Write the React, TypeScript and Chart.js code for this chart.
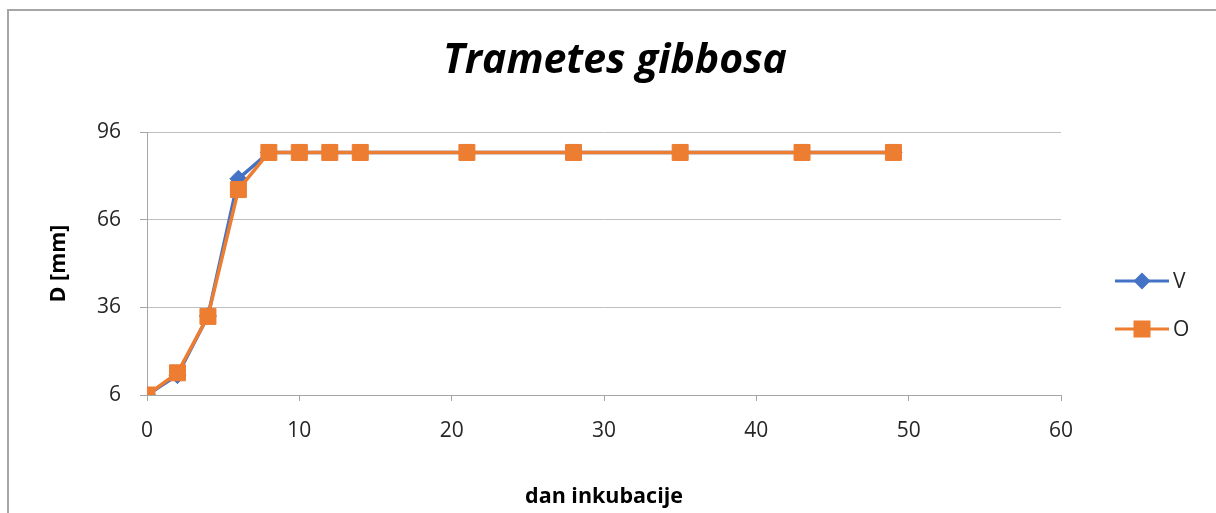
import React, { useEffect, useRef } from 'react';
import { Chart, registerables } from 'chart.js';

Chart.register(...registerables);

const days = [0, 2, 4, 6, 8, 10, 12, 14, 21, 28, 35, 43, 49];
const seriesV = [6, 12.8, 33, 80, 89, 89, 89, 89, 89, 89, 89, 89, 89];
const seriesO = [6, 13.6, 32.9, 76.3, 89, 89, 89, 89, 89, 89, 89, 89, 89];
const yTicks = [6, 36, 66, 96];
const xMin = 0;
const xMax = 60;
const xStep = 10;
const titleText = 'Trametes gibbosa';
const xTitle = 'dan inkubacije';
const yTitle = 'D [mm]';
const labelV = 'V';
const labelO = 'O';

const BLUE = '#4472C4';
const ORANGE = '#ED7D31';
const FONT = "'Open Sans', sans-serif";

const titlePlugin = {
  id: 'customTitle',
  afterDraw(chart: any) {
    const ctx = chart.ctx;
    ctx.save();
    ctx.fillStyle = '#000';
    ctx.font = `italic bold 41px ${FONT}`;
    ctx.textAlign = 'center';
    ctx.textBaseline = 'alphabetic';
    ctx.fillText(titleText, 606, 62);
    ctx.restore();
  },
};

const legendPlugin = {
  id: 'customLegend',
  afterDraw(chart: any) {
    const ctx = chart.ctx;
    const items = [
      { label: labelV, color: BLUE, style: 'diamond', y: 270 },
      { label: labelO, color: ORANGE, style: 'square', y: 318 },
    ];
    ctx.save();
    items.forEach((it) => {
      ctx.strokeStyle = it.color;
      ctx.lineWidth = 3;
      ctx.beginPath();
      ctx.moveTo(1106, it.y);
      ctx.lineTo(1160, it.y);
      ctx.stroke();
      ctx.fillStyle = it.color;
      ctx.beginPath();
      const cx = 1133;
      if (it.style === 'diamond') {
        const r = 8.5;
        ctx.moveTo(cx - r, it.y);
        ctx.lineTo(cx, it.y - r);
        ctx.lineTo(cx + r, it.y);
        ctx.lineTo(cx, it.y + r);
        ctx.closePath();
      } else {
        const s = 8.5;
        ctx.rect(cx - s, it.y - s, 2 * s, 2 * s);
      }
      ctx.fill();
      ctx.fillStyle = '#262626';
      ctx.font = `21px ${FONT}`;
      ctx.textBaseline = 'middle';
      ctx.textAlign = 'left';
      ctx.fillText(it.label, 1164, it.y + 1);
    });
    ctx.restore();
  },
};

export default function App() {
  const ref = useRef<HTMLCanvasElement>(null);
  useEffect(() => {
    if (!ref.current) return;
    const chart = new Chart(ref.current, {
      type: 'line',
      data: {
        datasets: [
          {
            label: labelV,
            data: days.map((d, i) => ({ x: d, y: seriesV[i] })),
            borderColor: BLUE,
            backgroundColor: BLUE,
            borderWidth: 3.5,
            pointStyle: 'rectRot',
            pointRadius: 8.5,
            pointBorderWidth: 1,
            pointBorderColor: BLUE,
            pointBackgroundColor: BLUE,
            tension: 0,
            order: 2,
          },
          {
            label: labelO,
            data: days.map((d, i) => ({ x: d, y: seriesO[i] })),
            borderColor: ORANGE,
            backgroundColor: ORANGE,
            borderWidth: 3.5,
            pointStyle: 'rect',
            pointRadius: 11.3,
            pointBorderWidth: 1,
            pointBorderColor: ORANGE,
            pointBackgroundColor: ORANGE,
            tension: 0,
            order: 1,
          },
        ],
      },
      options: {
        animation: false,
        responsive: false,
        layout: { padding: { left: 0, right: 155, top: 121, bottom: 0 } },
        plugins: {
          legend: { display: false },
          tooltip: { enabled: false },
          title: { display: false },
        },
        scales: {
          x: {
            type: 'linear',
            min: xMin,
            max: xMax,
            afterFit: (s: any) => { s.height = 118; },
            ticks: {
              stepSize: xStep,
              color: '#262626',
              font: { family: FONT, size: 21 },
              padding: 17,
              maxRotation: 0,
            },
            grid: {
              drawOnChartArea: false,
              drawTicks: true,
              tickLength: 6,
              tickColor: '#a6a6a6',
            },
            border: { display: true, color: '#a6a6a6', width: 1 },
            title: {
              display: true,
              text: xTitle,
              color: '#000',
              font: { family: FONT, size: 21.5, weight: 'bold', lineHeight: 1.2 },
              padding: { top: 0, bottom: 3 },
            },
          },
          y: {
            type: 'linear',
            min: yTicks[0],
            max: yTicks[yTicks.length - 1],
            afterFit: (s: any) => { s.width = 138; },
            afterBuildTicks: (s: any) => { s.ticks = yTicks.map((v) => ({ value: v })); },
            ticks: {
              color: '#262626',
              font: { family: FONT, size: 21 },
              padding: 19,
            },
            grid: {
              color: '#bfbfbf',
              drawTicks: true,
              tickLength: 7,
              tickColor: '#a6a6a6',
            },
            border: { display: true, color: '#a6a6a6', width: 1 },
            title: {
              display: true,
              text: yTitle,
              color: '#000',
              font: { family: FONT, size: 21.5, weight: 'bold', lineHeight: 1.2 },
              padding: { top: 37, bottom: 0 },
            },
          },
        },
      },
      plugins: [titlePlugin, legendPlugin],
    });
    return () => chart.destroy();
  }, []);

  return (
    <div
      style={{
        position: 'fixed',
        left: 7,
        top: 9,
        width: 1209,
        height: 504,
        borderLeft: '2px solid #a6a6a6',
        borderTop: '2px solid #a6a6a6',
        boxSizing: 'border-box',
        background: '#fff',
      }}
    >
      <canvas ref={ref} width={1207} height={502} style={{ display: 'block' }} />
    </div>
  );
}
